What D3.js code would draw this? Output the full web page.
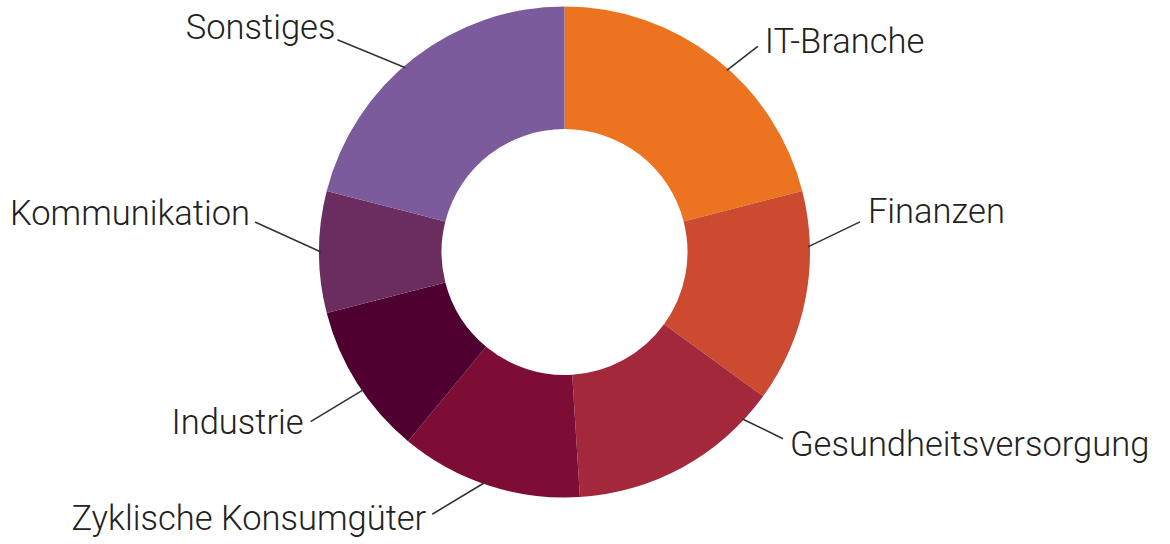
<!DOCTYPE html>
<html>
<head>
<meta charset="utf-8">
<script src="https://cdn.jsdelivr.net/npm/d3@7"></script>
<style>
  html, body { margin: 0; padding: 0; background: #ffffff; }
  svg { display: block; }
  .lbl { font-family: Roboto, "Noto Sans", sans-serif; font-weight: 300; font-size: 34.5px; fill: #222222; }
</style>
</head>
<body>
<svg id="chart" width="1170" height="544"></svg>
<script>
// ---- data ----
const categories = ["IT-Branche", "Finanzen", "Gesundheitsversorgung", "Zyklische Konsumgüter", "Industrie", "Kommunikation", "Sonstiges"];
const values = [21, 14, 14, 12, 10, 8, 21];
const colors = ["#EC7420", "#CC4B30", "#A3283B", "#7E0D35", "#4F0030", "#6B2C60", "#7B5B9B"];

// ---- label layout (annotation placement, not data) ----
// angle nudge (deg) from the slice middle, leader vector, text offset from leader end, anchor
const labelLayout = {
  "IT-Branche":            { nudge: 4,   vec: [31, -24], off: [7, 7],   anchor: "start" },
  "Finanzen":              { nudge: -12, vec: [52, -25], off: [8, 1],   anchor: "start" },
  "Gesundheitsversorgung": { nudge: -18, vec: [41, 20],  off: [7, 17],  anchor: "start" },
  "Zyklische Konsumgüter": { nudge: 1,   vec: [-53, 32], off: [-6, 16], anchor: "end" },
  "Industrie":             { nudge: -2,  vec: [-53, 32], off: [-7, 12], anchor: "end" },
  "Kommunikation":         { nudge: 0,   vec: [-66, -30], off: [-5, 3], anchor: "end" },
  "Sonstiges":             { nudge: -3,  vec: [-68, -28], off: [-2, -1], anchor: "end" }
};

const svg = d3.select("#chart");
const cx = 564.5, cy = 252, rOuter = 245.5, rInner = 123;

const table = categories.map((c, i) => ({ name: c, value: values[i], color: colors[i] }));

const pie = d3.pie().value(d => d.value).sort(null);
const arc = d3.arc().innerRadius(rInner).outerRadius(rOuter);
const arcs = pie(table);

const g = svg.append("g").attr("transform", `translate(${cx},${cy})`);

g.selectAll("path.slice")
  .data(arcs)
  .join("path")
  .attr("class", "slice")
  .attr("d", arc)
  .attr("fill", d => d.data.color);

const toPt = (a, r) => [r * Math.sin(a), -r * Math.cos(a)];

const labels = g.selectAll("g.label")
  .data(arcs)
  .join("g")
  .attr("class", "label");

labels.each(function(d) {
  const L = labelLayout[d.data.name];
  const mid = (d.startAngle + d.endAngle) / 2 + L.nudge * Math.PI / 180;
  const p0 = toPt(mid, rOuter - 2);
  const p1 = [p0[0] + L.vec[0], p0[1] + L.vec[1]];
  const sel = d3.select(this);
  sel.append("line")
    .attr("x1", p0[0]).attr("y1", p0[1])
    .attr("x2", p1[0]).attr("y2", p1[1])
    .attr("stroke", "#333333")
    .attr("stroke-width", 1.6);
  sel.append("text")
    .attr("class", "lbl")
    .attr("x", p1[0] + L.off[0])
    .attr("y", p1[1] + L.off[1])
    .attr("text-anchor", L.anchor)
    .text(d.data.name);
});
</script>
</body>
</html>
